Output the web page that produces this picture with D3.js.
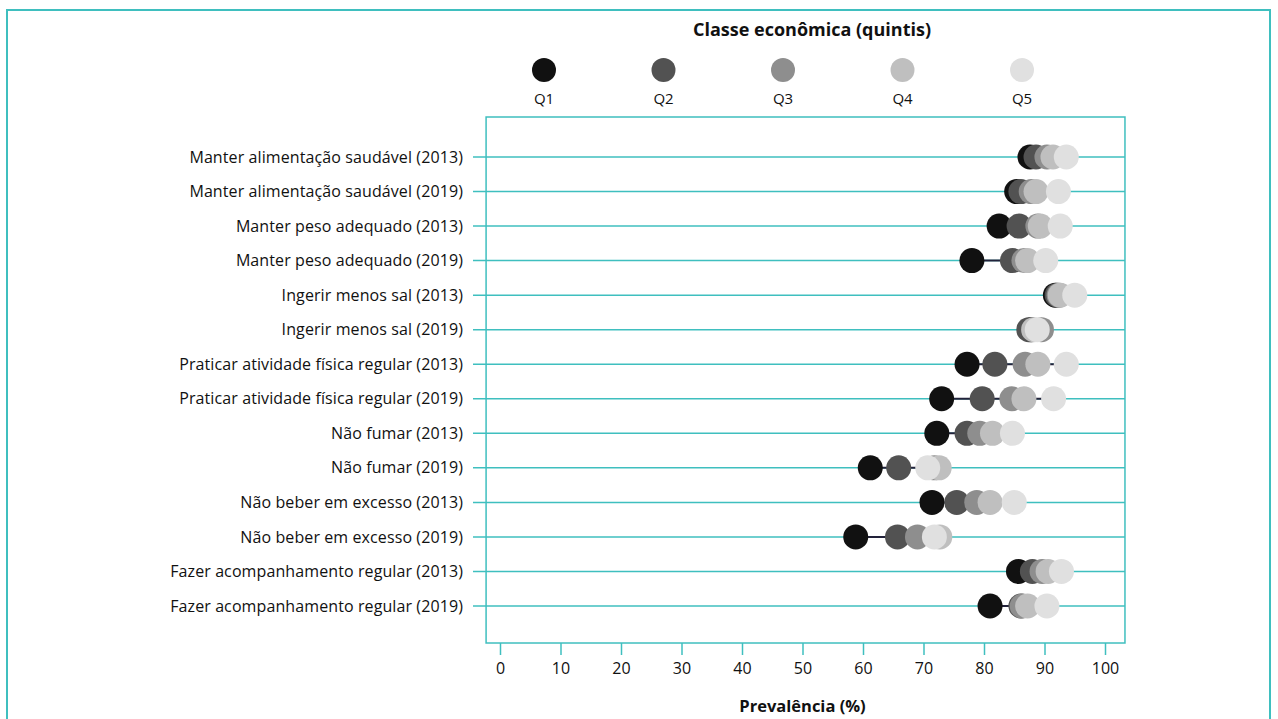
<!DOCTYPE html>
<html><head><meta charset="utf-8">
<script src="https://cdn.jsdelivr.net/npm/d3@7"></script>
<style>
html,body{margin:0;padding:0;background:#fff;}
svg text{font-family:"Open Sans",sans-serif;fill:#111;}
</style></head>
<body><svg id="c" width="1278" height="719"></svg>
<script>
const categories = [
  "Manter alimentação saudável (2013)",
  "Manter alimentação saudável (2019)",
  "Manter peso adequado (2013)",
  "Manter peso adequado (2019)",
  "Ingerir menos sal (2013)",
  "Ingerir menos sal (2019)",
  "Praticar atividade física regular (2013)",
  "Praticar atividade física regular (2019)",
  "Não fumar (2013)",
  "Não fumar (2019)",
  "Não beber em excesso (2013)",
  "Não beber em excesso (2019)",
  "Fazer acompanhamento regular (2013)",
  "Fazer acompanhamento regular (2019)"
];
const quintiles = ["Q1","Q2","Q3","Q4","Q5"];
const q1 = [87.6, 85.4, 82.5, 78.0, 91.8, 87.8, 77.2, 73.0, 72.2, 61.2, 71.4, 58.8, 85.7, 81.0];
const q2 = [88.6, 86.1, 85.8, 84.7, 92.1, 87.4, 81.8, 79.7, 77.2, 65.9, 75.5, 65.7, 88.0, 86.1];
const q3 = [90.4, 87.8, 88.9, 86.6, 92.4, 89.5, 86.8, 84.6, 79.3, 71.8, 78.8, 69.0, 89.6, 86.3];
const q4 = [91.4, 88.6, 89.3, 87.2, 92.6, 88.2, 88.9, 86.6, 81.4, 72.6, 81.0, 72.7, 90.6, 87.2];
const q5 = [93.6, 92.3, 92.6, 90.2, 95.0, 88.8, 93.6, 91.5, 84.7, 70.7, 85.0, 71.8, 92.8, 90.4];
const xTicks = [0,10,20,30,40,50,60,70,80,90,100];

const series = [q1,q2,q3,q4,q5];
const colors = ["#111111","#525252","#8e8e8e","#bfbfbf","#e0e0e0"];
const teal = "#3fbfbf";

const svg = d3.select("#c");
// outer frame
svg.append("rect").attr("x",7).attr("y",10).attr("width",1263).attr("height",730)
  .attr("fill","none").attr("stroke",teal).attr("stroke-width",2);

const x = d3.scaleLinear().domain([0,100]).range([500,1105]);
const y = d3.scalePoint().domain(categories).range([157,606]);
const boxL = x(-2.3), boxR = x(103.3), boxT = 117, boxB = 643;

// gridlines
svg.append("g").selectAll("line").data(categories).join("line")
  .attr("x1",473).attr("x2",boxR).attr("y1",d=>y(d)).attr("y2",d=>y(d))
  .attr("stroke",teal).attr("stroke-width",1.5);

// box
svg.append("rect").attr("x",boxL).attr("y",boxT).attr("width",boxR-boxL).attr("height",boxB-boxT)
  .attr("fill","none").attr("stroke",teal).attr("stroke-width",1.5);

// y labels
svg.append("g").selectAll("text").data(categories).join("text")
  .attr("x",463).attr("y",d=>y(d)).attr("dy","0.35em").attr("text-anchor","end")
  .attr("font-size",16).attr("letter-spacing",0.1).text(d=>d);

// x axis
const ax = svg.append("g").attr("transform",`translate(0,${boxB})`)
  .call(d3.axisBottom(x).tickValues(xTicks).tickSize(12).tickPadding(8));
ax.select(".domain").remove();
ax.selectAll(".tick line").attr("stroke",teal).attr("stroke-width",1.5);
ax.selectAll(".tick text").attr("font-size",16).style("font-family","Open Sans").attr("fill","#111");

svg.append("text").attr("x",x(50)).attr("y",712).attr("text-anchor","middle")
  .attr("font-size",16.5).attr("font-weight","bold").text("Prevalência (%)");

// connectors
const rows = categories.map((c,i)=>({c, vals: series.map(s=>s[i])}));
svg.append("g").selectAll("line").data(rows).join("line")
  .attr("x1",d=>x(d3.min(d.vals))).attr("x2",d=>x(d3.max(d.vals)))
  .attr("y1",d=>y(d.c)).attr("y2",d=>y(d.c))
  .attr("stroke","#22223a").attr("stroke-width",2);

// dots
series.forEach((s,qi)=>{
  svg.append("g").selectAll("circle").data(categories).join("circle")
    .attr("cx",(d,i)=>x(s[i])).attr("cy",d=>y(d)).attr("r",12.5)
    .attr("fill",colors[qi]);
});

// legend
svg.append("text").attr("x",812).attr("y",36).attr("text-anchor","middle")
  .attr("font-size",18).attr("font-weight","bold").text("Classe econômica (quintis)");
const lx = d3.scalePoint().domain(quintiles).range([544,1022]);
svg.append("g").selectAll("circle").data(quintiles).join("circle")
  .attr("cx",d=>lx(d)).attr("cy",70).attr("r",12).attr("fill",(d,i)=>colors[i]);
svg.append("g").selectAll("text").data(quintiles).join("text")
  .attr("x",d=>lx(d)).attr("y",104).attr("text-anchor","middle").attr("font-size",15).text(d=>d);
</script></body></html>
